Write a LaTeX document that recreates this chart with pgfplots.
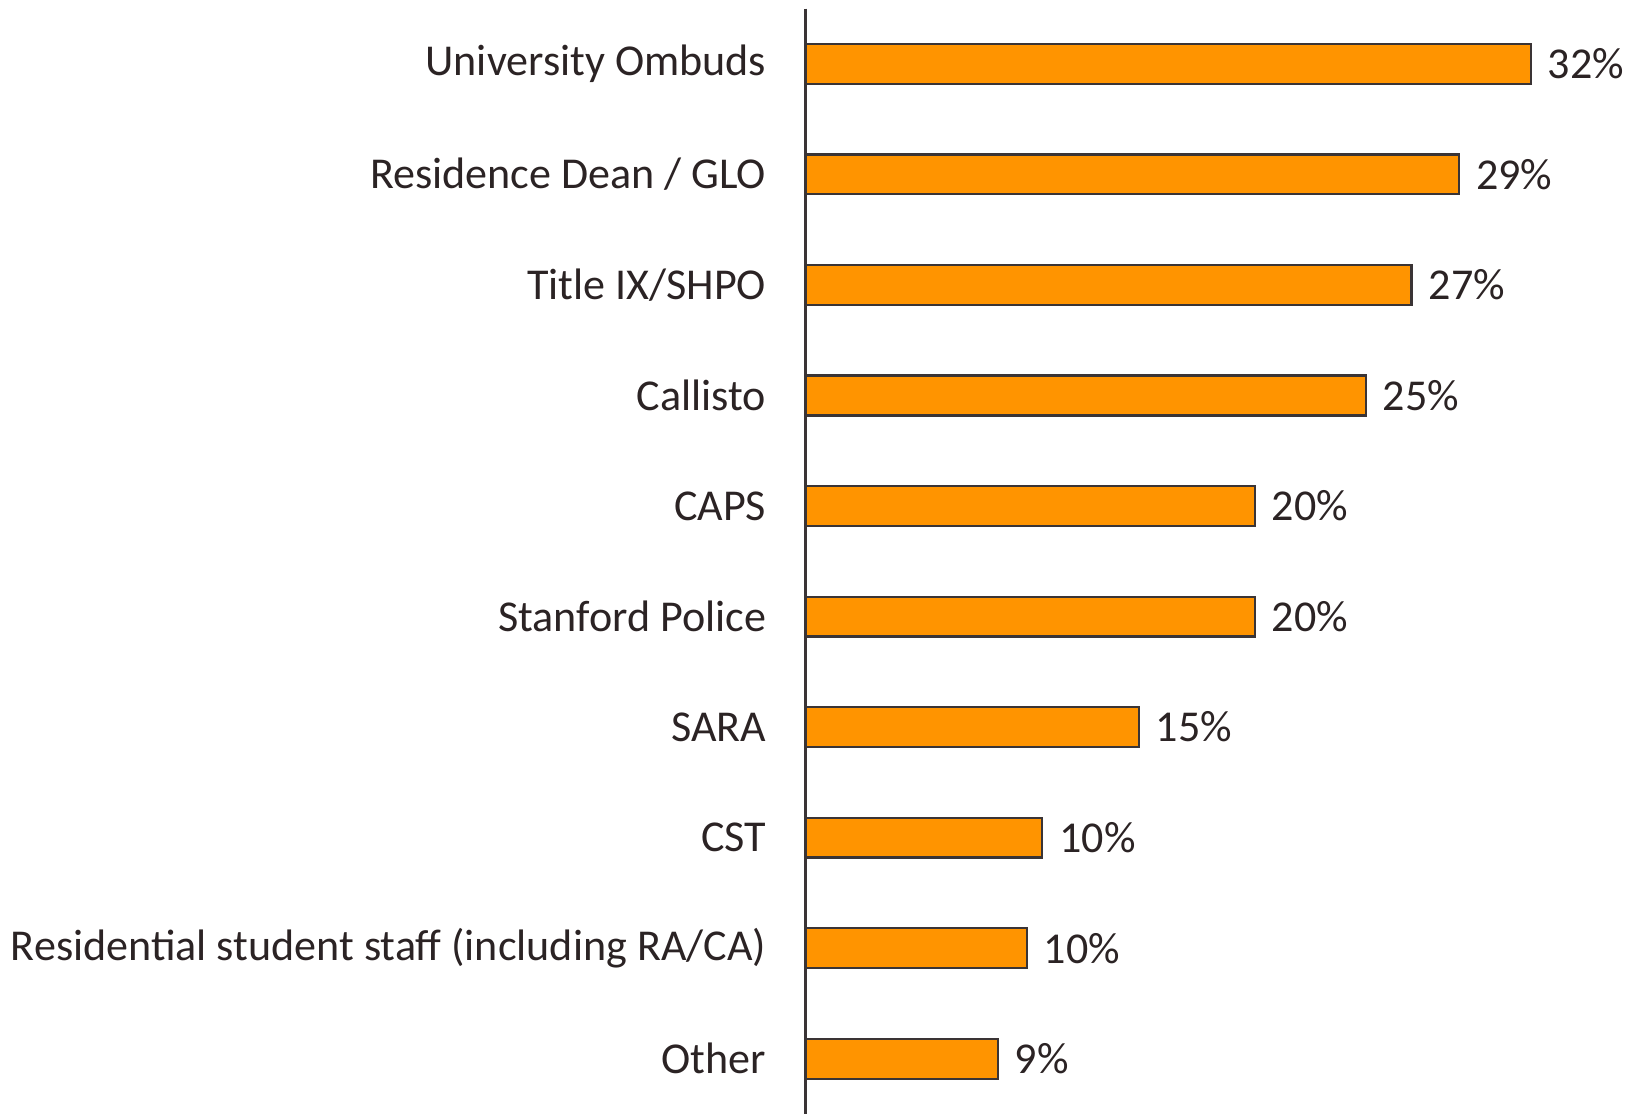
\documentclass[border=0pt]{standalone}
\usepackage{fontspec}
\setmainfont{Carlito}
\usepackage{pgfplots}
\pgfplotsset{compat=1.18}
\definecolor{barorange}{HTML}{FF9400}
\definecolor{edgegray}{HTML}{3A3435}
\definecolor{txt}{HTML}{2B2324}

\begin{document}
\begin{tikzpicture}
\begin{axis}[
  xbar, bar width=0.36, bar shift=0pt,
  scale only axis, width=248pt, height=336.1pt,
  xmin=0, xmax=36.0, ymin=-0.5, ymax=9.5, y dir=reverse,
  axis x line=none, axis y line=left,
  y axis line style={-, draw=edgegray, line width=0.8pt},
  ytick={0,...,9}, major tick length=0pt,
  yticklabels={University Ombuds, Residence Dean / GLO, Title IX/SHPO, Callisto, CAPS,
    Stanford Police, SARA, CST, Residential student staff (including RA/CA), Other},
  yticklabel style={font=\fontsize{13.4}{16}\selectfont, text=txt, xshift=-8.5pt},
  point meta=explicit symbolic,
  nodes near coords={\pgfplotspointmeta},
  nodes near coords style={font=\fontsize{13.4}{16}\selectfont, text=txt, anchor=west, xshift=1.5pt},
  clip=false,
]
  % bar lengths, labels as printed
  \addplot[fill=barorange, draw=edgegray, line width=0.7pt] coordinates {
    (32.0,0) [32\%]
    (28.84,1) [29\%]
    (26.74,2) [27\%]
    (24.72,3) [25\%]
    (19.82,4) [20\%]
    (19.82,5) [20\%]
    (14.70,6) [15\%]
    (10.44,7) [10\%]
    (9.75,8) [10\%]
    (8.47,9) [9\%]
  };
\end{axis}
% a little white space above the axis line, as in the original
\path ([yshift=2.6pt]current axis.north);
\end{tikzpicture}
\end{document}
